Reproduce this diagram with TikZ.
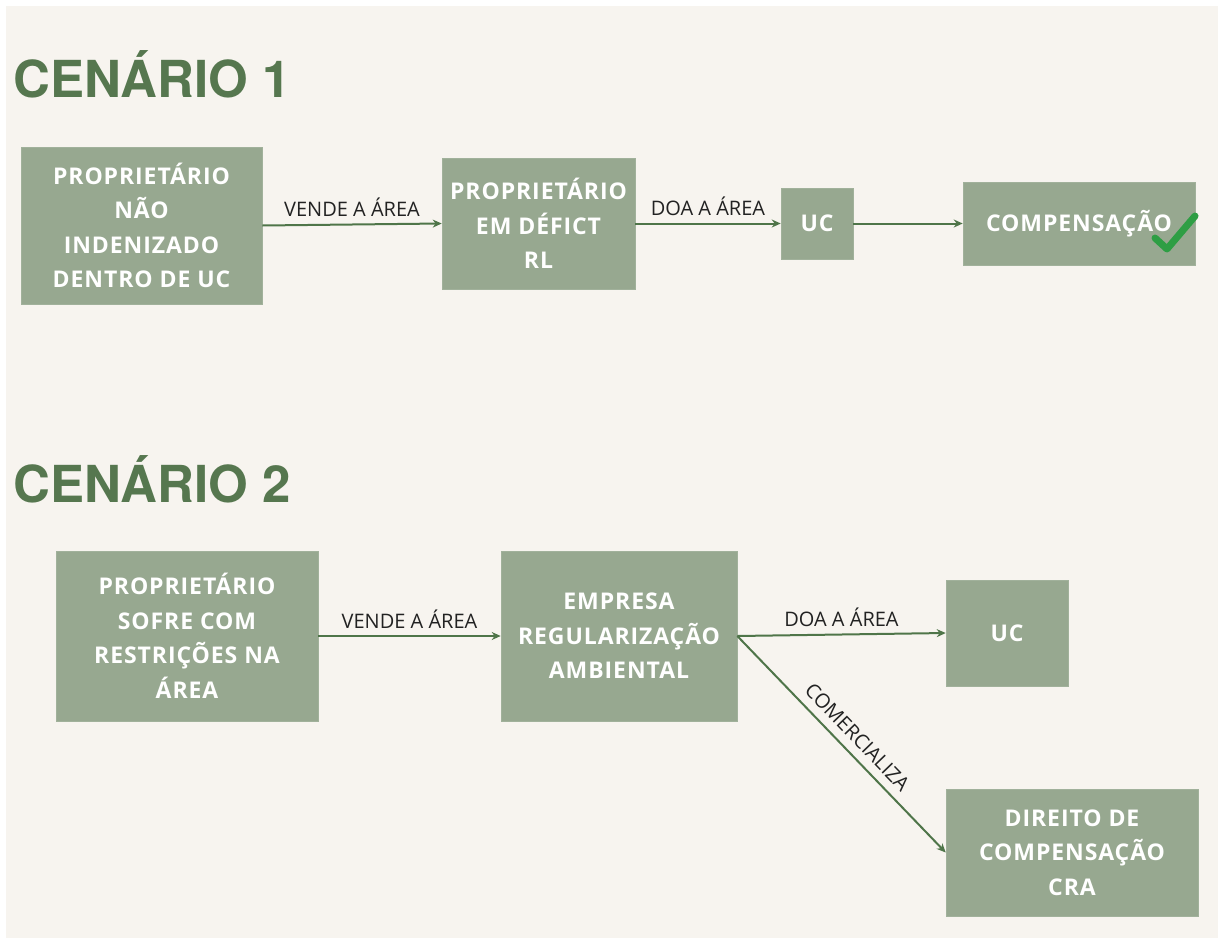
\documentclass[tikz,border=0pt]{standalone}
\usepackage{fontspec}
\usetikzlibrary{arrows.meta}
\newfontfamily\titlefont{TeX Gyre Heros}
\newfontfamily\boxfont{Open Sans}[LetterSpace=4]
\newfontfamily\labelfont{Open Sans}
\definecolor{bgc}{HTML}{F7F4EF}
\definecolor{boxc}{HTML}{97A890}
\definecolor{titlec}{HTML}{56774F}
\definecolor{arrowc}{HTML}{4F7549}
\definecolor{checkc}{HTML}{2E9E44}
\definecolor{labelc}{HTML}{222222}
\tikzset{
  stepbox/.style={fill=boxc, draw=boxc!90!white, line width=0.6pt, inner sep=0pt, align=center, text=white,
    font=\boxfont\bfseries\fontsize{23}{34.5}\selectfont},
  ttl/.style={anchor=west, inner sep=0pt, text=titlec, font=\titlefont\bfseries\fontsize{51}{51}\selectfont},
  conn/.style={draw=arrowc, line width=2pt, -{Stealth[length=9pt,width=8pt]}},
  lbl/.style={text=labelc, font=\labelfont\fontsize{20}{20}\selectfont, inner sep=0pt}
}
\begin{document}
\begin{tikzpicture}[x=1pt,y=-1pt]
\useasboundingbox (0,0) rectangle (1218,940);
\fill[white] (0,0) rectangle (1218,940);
\fill[bgc] (6,6) rectangle (1218,938);

\node[ttl] (t1) at (13,74) {CENÁRIO 1};
\node[ttl] (t2) at (13,479) {CENÁRIO 2};

\node[stepbox, minimum width=241pt, minimum height=157pt] (a1) at (141.5,225.5) {PROPRIETÁRIO\\NÃO\\INDENIZADO\\DENTRO DE UC};
\node[stepbox, minimum width=193pt, minimum height=131pt] (b1) at (538.5,223.5) {PROPRIETÁRIO\\EM DÉFICT\\RL};
\node[stepbox, minimum width=72pt, minimum height=71pt] (c1) at (817,223.5) {UC};
\node[stepbox, minimum width=232pt, minimum height=83pt] (d1) at (1079,223.5) {COMPENSAÇÃO};

\draw[checkc, line width=7pt, line cap=round, line join=round] (1155,238) -- (1167,249) -- (1195,216);

\draw[conn] (a1.east) -- node[lbl, above=7pt, pos=0.5] {VENDE A ÁREA} (b1.west);
\draw[conn] (b1.east) -- node[lbl, above=7pt, pos=0.5] {DOA A ÁREA} (c1.west);
\draw[conn] (c1.east) -- (d1.west);

\node[stepbox, minimum width=262pt, minimum height=170pt] (a2) at (187,636) {PROPRIETÁRIO\\SOFRE COM\\RESTRIÇÕES NA\\ÁREA};
\node[stepbox, minimum width=236pt, minimum height=170pt] (b2) at (619,636) {EMPRESA\\REGULARIZAÇÃO\\AMBIENTAL};
\node[stepbox, minimum width=122pt, minimum height=106pt] (c2) at (1007,633) {UC};
\node[stepbox, minimum width=252pt, minimum height=127pt] (d2) at (1072,852.5) {DIREITO DE\\COMPENSAÇÃO\\CRA};

\draw[conn] (a2.east) -- node[lbl, above=7pt, pos=0.5] {VENDE A ÁREA} (b2.west);
\draw[conn] (b2.east) -- node[lbl, above=7pt, pos=0.5] {DOA A ÁREA} (c2.west);
\draw[conn] (b2.east) -- node[lbl, sloped, above=8pt, pos=0.52] {COMERCIALIZA} (d2.west);
\end{tikzpicture}
\end{document}
